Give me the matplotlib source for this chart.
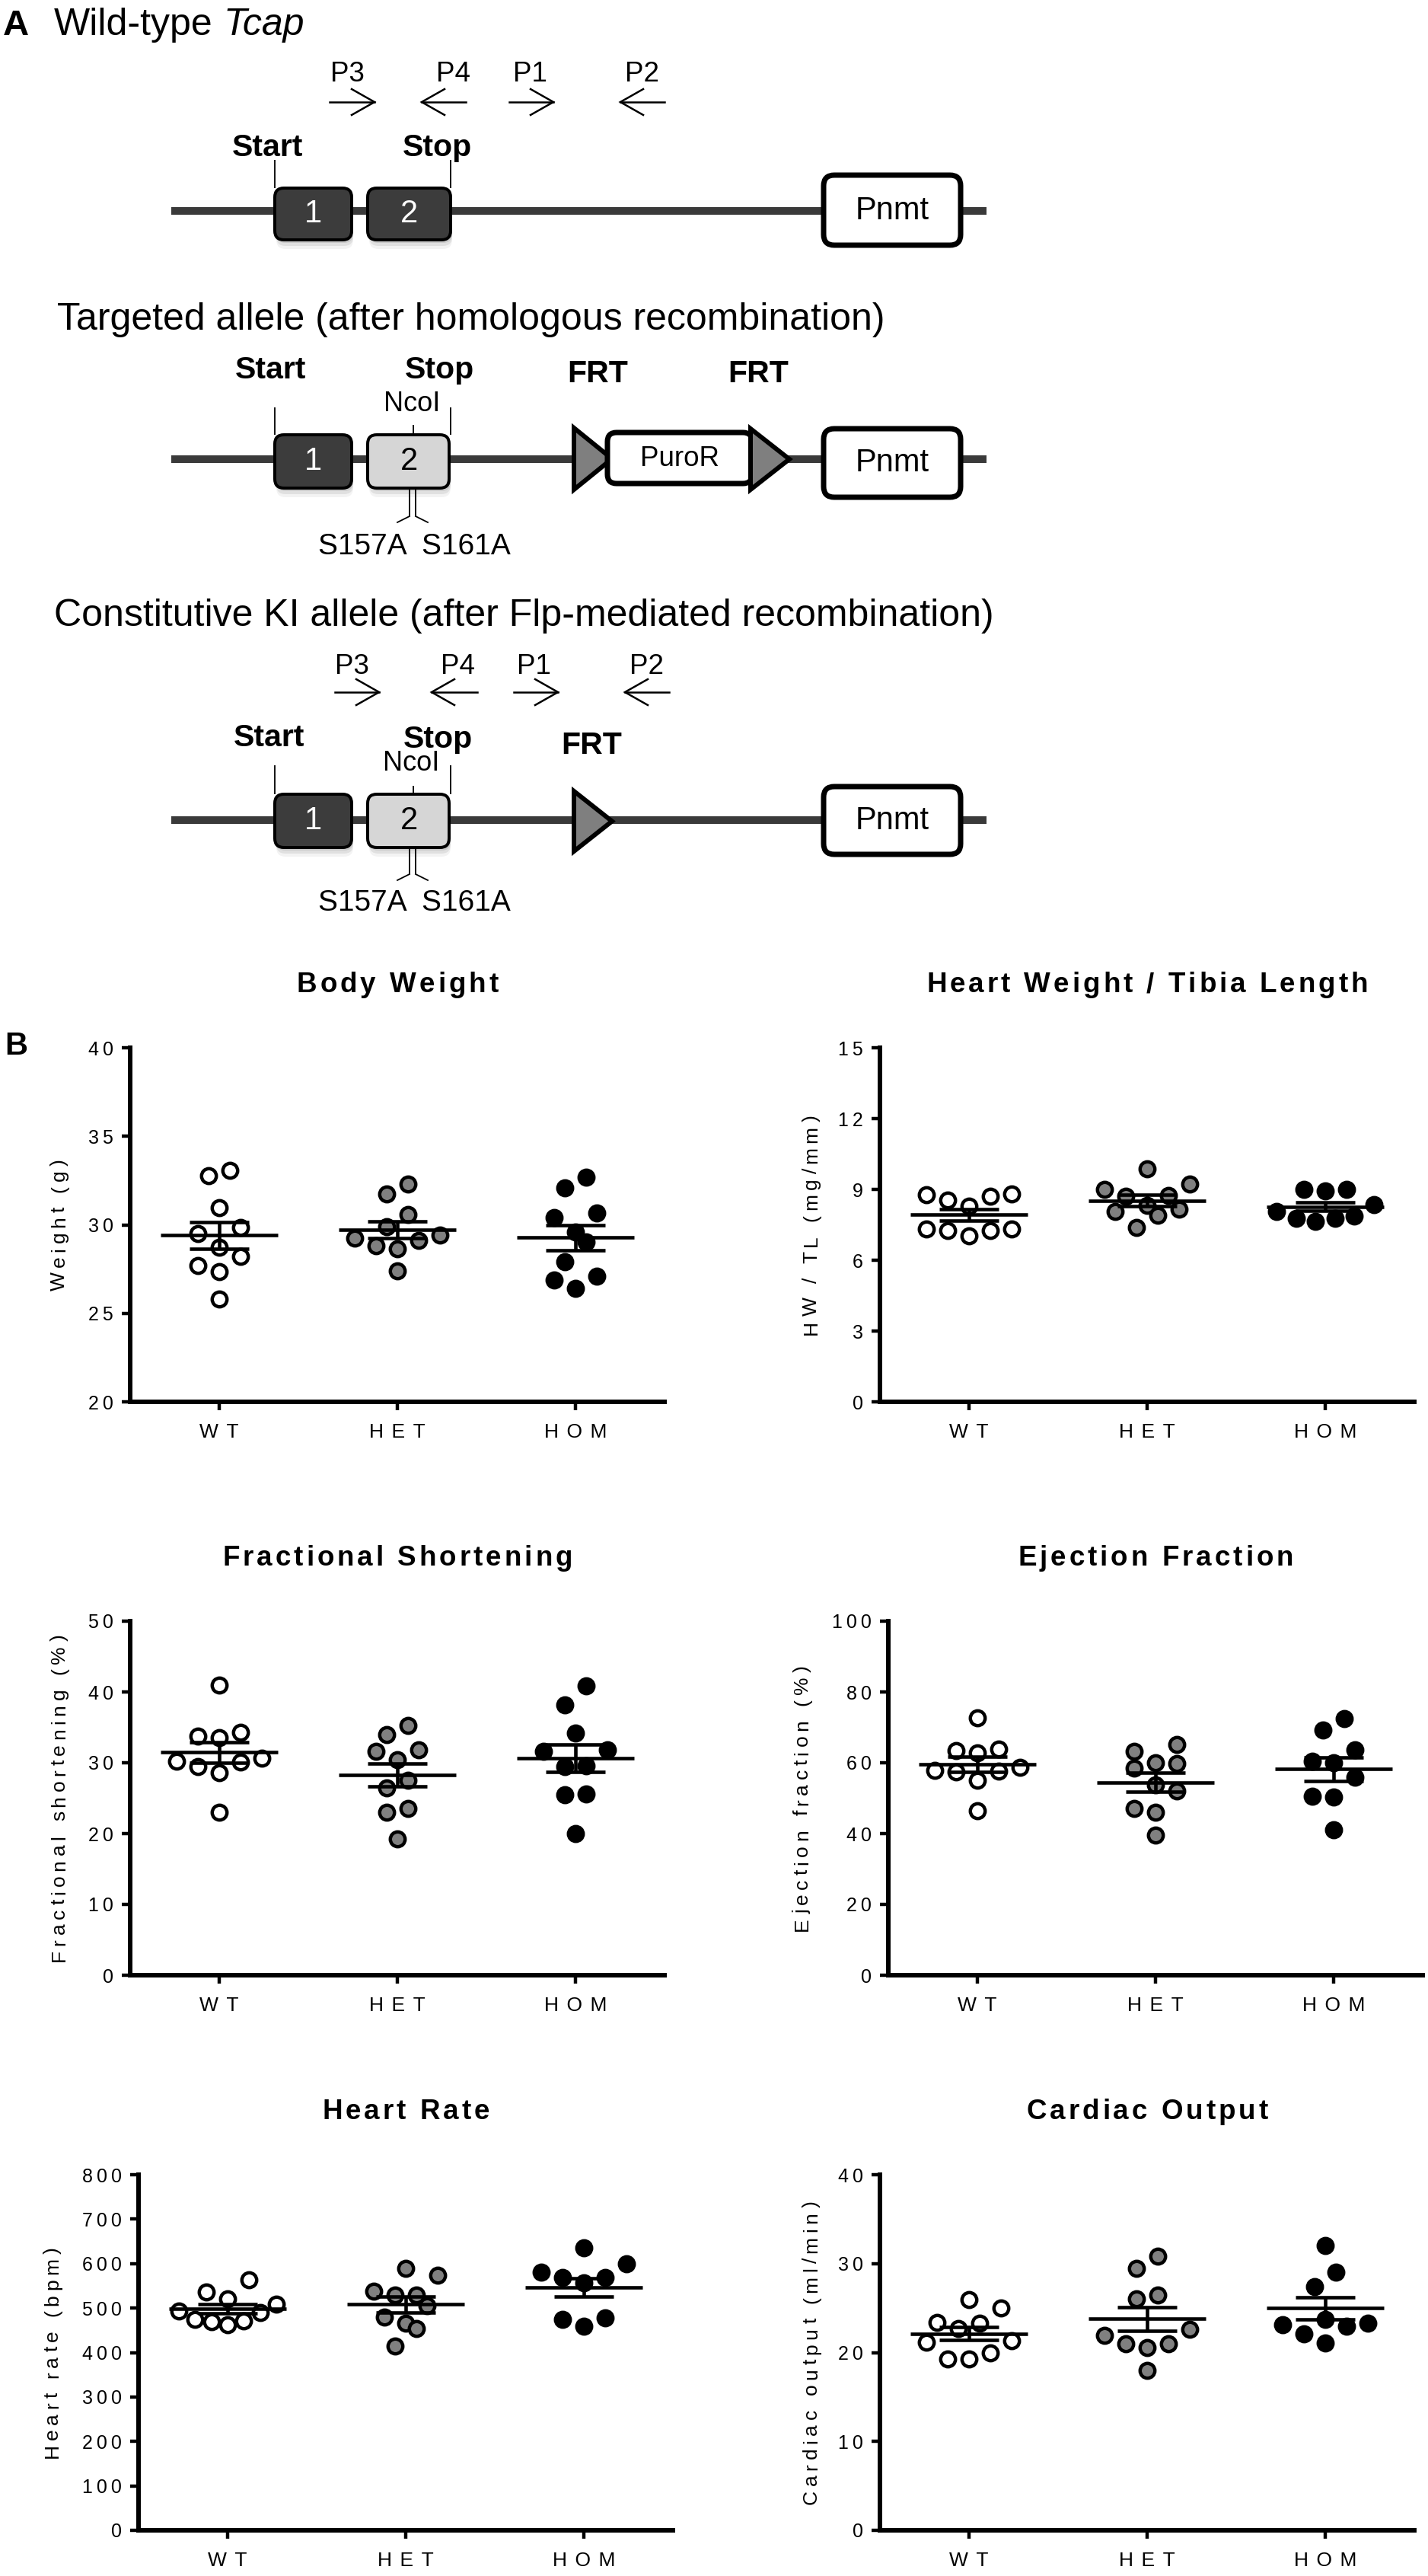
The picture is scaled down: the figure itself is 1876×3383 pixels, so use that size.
import numpy as np
import matplotlib
matplotlib.use('Agg')
import matplotlib.pyplot as plt
from matplotlib.patches import FancyBboxPatch, Polygon, Rectangle
from matplotlib import font_manager as fm

plt.rcParams['font.family'] = ['Liberation Sans', 'DejaVu Sans']

W, H = 1876, 3383
PT = 0.72  # points per pixel at dpi 100

# ---------------- data ----------------
categories = ['WT', 'HET', 'HOM']
group_colors = ['#ffffff', '#808080', '#000000']

bw_wt = [33.09, 32.76, 30.97, 29.85, 29.52, 28.75, 28.20, 27.68, 27.36, 25.81]
bw_het = [32.32, 31.74, 30.58, 29.90, 29.23, 29.42, 29.13, 28.80, 28.65, 27.39]
bw_hom = [32.70, 32.07, 30.68, 30.42, 29.58, 29.03, 27.92, 27.10, 26.87, 26.39]

hw_wt = [8.77, 8.56, 8.30, 8.70, 8.80, 7.31, 7.25, 7.02, 7.25, 7.31]
hw_het = [9.86, 9.24, 8.99, 8.70, 8.73, 8.33, 8.05, 7.89, 8.15, 7.38]
hw_hom = [8.99, 8.95, 8.99, 8.34, 8.08, 7.79, 7.65, 7.79, 7.87]

fs_wt = [40.96, 34.33, 33.57, 33.80, 30.21, 29.41, 30.08, 30.66, 28.56, 23.05]
fs_het = [35.23, 34.02, 31.56, 31.78, 30.44, 27.53, 26.41, 23.50, 23.05, 19.25]
fs_hom = [40.87, 38.14, 34.24, 31.56, 31.78, 29.54, 29.41, 25.60, 25.51, 20.01]

ef_wt = [72.78, 63.83, 62.85, 63.38, 57.92, 57.48, 57.74, 58.64, 55.06, 46.55]
ef_het = [65.17, 63.29, 58.46, 59.98, 59.71, 53.71, 52.10, 47.00, 45.93, 39.66]
ef_hom = [72.52, 69.20, 63.56, 60.43, 59.98, 56.00, 50.58, 50.31, 41.18]

hr_wt = [563.1, 535.9, 521.5, 508.6, 489.2, 492.8, 471.3, 462.7, 469.9, 474.9]
hr_het = [589.7, 573.9, 530.1, 537.3, 528.7, 505.7, 479.9, 465.6, 453.4, 415.4]
hr_hom = [634.9, 599.0, 580.3, 568.1, 568.1, 556.0, 478.5, 474.9, 458.4]

co_wt = [25.97, 25.00, 23.39, 22.74, 23.28, 21.35, 21.17, 19.98, 19.26, 19.26]
co_het = [30.85, 29.49, 26.08, 26.44, 21.96, 22.60, 20.99, 20.59, 20.99, 18.01]
co_hom = [32.00, 29.02, 27.44, 23.32, 22.92, 23.75, 23.10, 22.13, 21.06]

titles = ['Body Weight', 'Heart Weight / Tibia Length', 'Fractional Shortening',
          'Ejection Fraction', 'Heart Rate', 'Cardiac Output']
ylabels = ['Weight (g)', 'HW / TL (mg/mm)', 'Fractional shortening (%)',
           'Ejection fraction (%)', 'Heart rate (bpm)', 'Cardiac output (ml/min)']
ylims = [(20, 40), (0, 15), (0, 50), (0, 100), (0, 800), (0, 40)]
ysteps = [5, 3, 10, 20, 100, 10]
datasets = [(bw_wt, bw_het, bw_hom), (hw_wt, hw_het, hw_hom), (fs_wt, fs_het, fs_hom),
            (ef_wt, ef_het, ef_hom), (hr_wt, hr_het, hr_hom), (co_wt, co_het, co_hom)]

# ---------------- layout (pixels) ----------------
axes_x0 = [171, 1156, 171, 1167, 182, 1156]
axes_rows = [(1376, 1841), (1376, 1841), (2129, 2594), (2129, 2594), (2856, 3323), (2856, 3323)]
ylabel_x = [78, 1066, 78, 1054, 69, 1066]
AX_W = 702

A_FAM = ['Liberation Sans', 'DejaVu Sans']

fig = plt.figure(figsize=(W / 100, H / 100), dpi=100)
fig.patch.set_facecolor('white')
renderer = fig.canvas.get_renderer()

axd = fig.add_axes([0, 0, 1, 1])
axd.set_xlim(0, W)
axd.set_ylim(H, 0)
axd.axis('off')


def atext(x, y, s, size, **kw):
    return axd.text(x, y, s, fontsize=size, family=A_FAM, **kw)


def tw(s, prop):
    return renderer.get_text_width_height_descent(s, prop, ismath=False)[0]


def tracked(x, y, s, size, tracking, weight='normal', rotation=0):
    """Letter-spaced text, centred on x (or on y when rotated); y / x is the baseline."""
    prop = fm.FontProperties(family=['Liberation Sans', 'DejaVu Sans'], size=size, weight=weight)
    base = tw('xx', prop)
    adv = [tw('x' + c + 'x', prop) - base for c in s]
    total = sum(adv) + tracking * (len(s) - 1)
    pos = -total / 2
    for c, a in zip(s, adv):
        cc = pos + a / 2
        if c != ' ':
            if rotation == 0:
                axd.text(x + cc, y, c, fontproperties=prop, ha='center', va='baseline')
            else:
                axd.text(x, y - cc, c, fontproperties=prop, rotation=90,
                         rotation_mode='anchor', ha='center', va='baseline')
        pos += a + tracking


# ---------------- Panel A: gene schematic ----------------
def rbox(x0, x1, y0, y1, fc, lw_px, r=12, z=3, shadow=False):
    if shadow:
        for k, a in [(4, 0.22), (8, 0.16), (12, 0.09)]:
            axd.add_patch(FancyBboxPatch((x0 + 2, y0 + k), x1 - x0, y1 - y0,
                                         boxstyle=f"round,pad=0,rounding_size={r}",
                                         fc='#808080', ec='none', alpha=a, zorder=2))
    axd.add_patch(FancyBboxPatch((x0, y0), x1 - x0, y1 - y0,
                                 boxstyle=f"round,pad=0,rounding_size={r}",
                                 fc=fc, ec='black', lw=lw_px * PT, zorder=z))


def tri(x0, y0, y1, xa, z=3):
    axd.add_patch(Polygon([(x0, y0), (x0, y1), (xa, (y0 + y1) / 2)], closed=True,
                          fc='#7f7f7f', ec='black', lw=6 * PT, joinstyle='miter', zorder=z))


def vline(x, y0, y1, lw=1.3):
    axd.plot([x, x], [y0, y1], color='black', lw=lw, solid_capstyle='butt', zorder=2)


def gene_line(y):
    axd.add_patch(Rectangle((225, y - 5), 1296 - 225, 10, fc='#3a3a3a', ec='none', zorder=1))


def primer_row(y_lab, y_arr, items):
    for lab, lx, tail, head in items:
        atext(lx, y_lab, lab, 26.5, ha='center', va='baseline', zorder=4)
        d = np.sign(head - tail)
        axd.plot([tail, head], [y_arr, y_arr], color='black', lw=1.8, zorder=4)
        axd.plot([head - d * 30, head, head - d * 30], [y_arr - 17, y_arr, y_arr + 17],
                 color='black', lw=1.8, zorder=4, solid_joinstyle='miter')


def mut_fork(x, y0, y1):
    vline(x - 4, y0, y1)
    vline(x + 4, y0, y1)
    axd.plot([x - 4, x - 20], [y1, y1 + 8], color='black', lw=1.3)
    axd.plot([x + 4, x + 20], [y1, y1 + 8], color='black', lw=1.3)


BOLD = dict(fontweight='bold', ha='center', va='baseline', zorder=4)

# title A
atext(4, 46, 'A', 34, fontweight='bold', ha='left', va='baseline')
t1 = atext(71, 46, 'Wild-type', 36, ha='left', va='baseline')
bb = t1.get_window_extent(renderer=renderer)
x_end = axd.transData.inverted().transform((bb.x1, bb.y0))[0]
atext(x_end + 14, 46, 'Tcap', 36, style='italic', ha='left', va='baseline')

# --- wild type ---
gene_line(277)
primer_row(107, 134, [('P3', 456, 433, 492), ('P4', 596, 612, 554),
                      ('P1', 696, 669, 727), ('P2', 844, 873, 815)])
atext(351, 205, 'Start', 29.5, **BOLD)
atext(574, 205, 'Stop', 29.5, **BOLD)
vline(361, 210, 247)
vline(592, 210, 247)
rbox(361, 462, 247, 315, '#3c3c3c', 4, shadow=True)
rbox(483, 592, 247, 315, '#3c3c3c', 4, shadow=True)
atext(411, 281, '1', 30, color='white', ha='center', va='center', zorder=4)
atext(537, 281, '2', 30, color='white', ha='center', va='center', zorder=4)
rbox(1082, 1262, 230, 322, 'white', 7, r=14)
atext(1172, 277, 'Pnmt', 30, ha='center', va='center', zorder=4)

# --- targeted allele ---
atext(75, 433, 'Targeted allele (after homologous recombination)', 36,
      ha='left', va='baseline')
gene_line(603)
atext(355, 497, 'Start', 29.5, **BOLD)
atext(577, 497, 'Stop', 29.5, **BOLD)
atext(785, 502, 'FRT', 29.5, **BOLD)
atext(996, 502, 'FRT', 29.5, **BOLD)
atext(541, 530, 'NcoI', 26, ha='center', va='center', zorder=4)
vline(361, 535, 571)
vline(592, 535, 571)
vline(543, 558, 571)
rbox(361, 462, 571, 641, '#3c3c3c', 4, shadow=True)
rbox(483, 590, 571, 641, '#d6d6d6', 4, shadow=True)
atext(411, 606, '1', 30, color='white', ha='center', va='center', zorder=4)
atext(537, 606, '2', 30, color='black', ha='center', va='center', zorder=4)
mut_fork(542, 641, 678)
atext(544, 718, 'S157A  S161A', 28, ha='center', va='center', zorder=4)
tri(754, 562, 643, 804)
rbox(798, 988, 568, 635, 'white', 7, r=12)
atext(893, 602, 'PuroR', 26.5, ha='center', va='center', zorder=4)
tri(986, 563, 643, 1037)
rbox(1082, 1262, 563, 653, 'white', 7, r=14)
atext(1172, 608, 'Pnmt', 30, ha='center', va='center', zorder=4)

# --- constitutive KI allele ---
atext(71, 822, 'Constitutive KI allele (after Flp-mediated recombination)', 36,
      ha='left', va='baseline')
gene_line(1077)
primer_row(885, 909, [('P3', 462, 440, 498), ('P4', 602, 627, 567),
                      ('P1', 701, 675, 733), ('P2', 850, 879, 821)])
atext(353, 980, 'Start', 29.5, **BOLD)
atext(575, 982, 'Stop', 29.5, **BOLD)
atext(777, 990, 'FRT', 29.5, **BOLD)
atext(540, 1003, 'NcoI', 26, ha='center', va='center', zorder=4)
vline(361, 1005, 1043)
vline(592, 1005, 1043)
vline(543, 1032, 1043)
rbox(361, 462, 1043, 1113, '#3c3c3c', 4, shadow=True)
rbox(483, 590, 1043, 1113, '#d6d6d6', 4, shadow=True)
atext(411, 1078, '1', 30, color='white', ha='center', va='center', zorder=4)
atext(537, 1078, '2', 30, color='black', ha='center', va='center', zorder=4)
mut_fork(542, 1113, 1148)
atext(544, 1186, 'S157A  S161A', 28, ha='center', va='center', zorder=4)
tri(754, 1039, 1118, 804)
rbox(1082, 1262, 1033, 1122, 'white', 7, r=14)
atext(1172, 1078, 'Pnmt', 30, ha='center', va='center', zorder=4)

# ---------------- Panel B: scatter plots ----------------
axd.text(6, 1374, 'B', fontsize=30, fontweight='bold', ha='left', va='center')


def swarm_offsets(vals, px_per_unit, px_per_cat, spacing=28, bin_px=29, max_half=64):
    vals = np.asarray(vals, float)
    order = np.argsort(vals, kind='stable')
    off = np.zeros(len(vals))
    i = 0
    while i < len(order):
        j = i
        while j < len(order) and (vals[order[j]] - vals[order[i]]) * px_per_unit < bin_px:
            j += 1
        grp = order[i:j]
        n = len(grp)
        s = spacing if n < 2 else min(spacing, max_half / ((n - 1) / 2))
        if n % 2:
            slots = [0] + [v for k in range(1, n // 2 + 1) for v in (-k, k)]
        else:
            slots = [v for k in range(n // 2) for v in (-(k + 0.5), k + 0.5)]
        for idx, sl in zip(grp, slots):
            off[idx] = sl * s / px_per_cat
        i = j
    return off


SPINE = 4.3
LW = 3.3
MS = 14.0
EDGE = 3.2
THIN = '\u2009'

for k in range(6):
    x0 = axes_x0[k]
    top, bot = axes_rows[k]
    lo, hi = ylims[k]
    ax = fig.add_axes([x0 / W, 1 - bot / H, AX_W / W, (bot - top) / H])
    ax.set_facecolor('none')
    ax.set_xlim(-0.5, 2.5)
    ax.set_ylim(lo, hi)
    px_per_unit = (bot - top) / (hi - lo)
    px_per_cat = AX_W / 3.0
    for gi, (vals, col) in enumerate(zip(datasets[k], group_colors)):
        xs = gi + swarm_offsets(vals, px_per_unit, px_per_cat)
        ax.scatter(xs, vals, s=MS ** 2, facecolor=col, edgecolor='black',
                   linewidth=EDGE, zorder=3, clip_on=False)
        m = np.mean(vals)
        se = np.std(vals, ddof=1) / np.sqrt(len(vals))
        ax.hlines(m, gi - 0.33, gi + 0.33, colors='black', lw=LW, zorder=4)
        ax.hlines([m - se, m + se], gi - 0.167, gi + 0.167, colors='black', lw=LW, zorder=4)
        ax.vlines(gi, m - se, m + se, colors='black', lw=LW, zorder=4)
    for s in ['top', 'right']:
        ax.spines[s].set_visible(False)
    for s in ['left', 'bottom']:
        ax.spines[s].set_linewidth(SPINE)
        ax.spines[s].set_capstyle('projecting')
    yt = np.arange(lo, hi + ysteps[k] / 2, ysteps[k])
    ax.set_yticks(yt)
    ax.set_yticklabels([THIN.join(str(int(v))) for v in yt])
    ax.set_xticks([0, 1, 2])
    ax.set_xticklabels([(THIN * 2).join(c) for c in categories])
    ax.tick_params(axis='both', direction='out', length=8, width=3.2, color='black')
    ax.tick_params(axis='y', labelsize=18, pad=8)
    ax.tick_params(axis='x', labelsize=19, pad=12)
    cx = x0 + AX_W / 2
    tracked(cx, top - 73, titles[k], 26.5, 4, weight='bold')
    tracked(ylabel_x[k] + 7, (top + bot) / 2, ylabels[k], 19, 5.6, rotation=90)

fig.savefig('out.png', dpi=100, facecolor='white')
